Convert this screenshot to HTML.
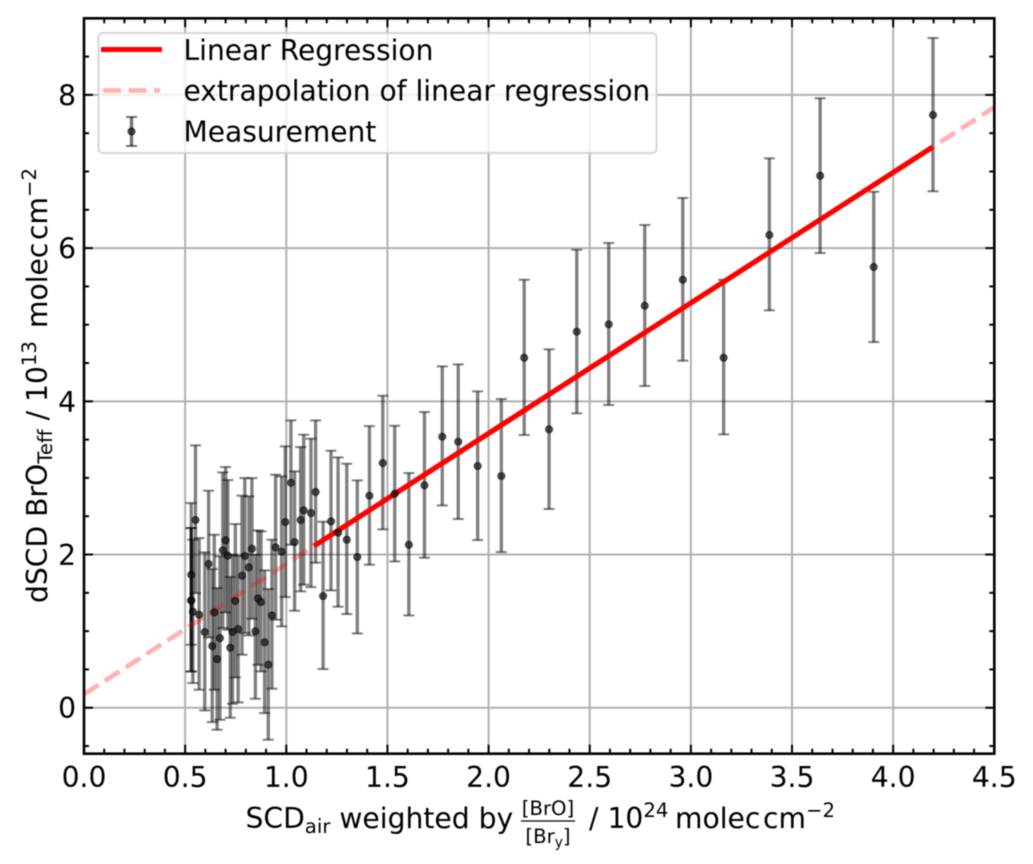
<!DOCTYPE html>
<html>
<head>
<meta charset="utf-8">
<title>dSCD BrO vs weighted SCD air</title>
<style>
html,body{margin:0;padding:0;background:#fff;}
svg{display:block;position:absolute;left:0;top:0;filter:blur(.5px);}
text{font-family:"DejaVu Sans","Liberation Sans",sans-serif;fill:#000;}
</style>
</head>
<body>
<svg id="chart" xmlns="http://www.w3.org/2000/svg" width="1033" height="864" viewBox="0 0 1033 864">
  <g id="grid"></g>
  <g id="bars"></g>
  <g id="fit"></g>
  <g id="points"></g>
  <g id="legend">
    <rect x="98.5" y="33" width="558" height="120" rx="4" ry="4" fill="#fff" fill-opacity="0.8" stroke="#ccc" stroke-opacity="0.8" stroke-width="2"></rect>
    <line x1="101" y1="49.5" x2="162" y2="49.5" stroke="#f00" stroke-width="5"></line>
    <line x1="103" y1="90.5" x2="160" y2="90.5" stroke="#f00" stroke-opacity="0.3" stroke-width="4.7" stroke-dasharray="18 7.5"></line>
    <g>
      <line x1="131.5" y1="117" x2="131.5" y2="146" stroke="#000" stroke-opacity="0.55" stroke-width="3.3"></line>
      <line x1="126" y1="117" x2="137" y2="117" stroke="#000" stroke-opacity="0.55" stroke-width="2"></line>
      <line x1="126" y1="146" x2="137" y2="146" stroke="#000" stroke-opacity="0.55" stroke-width="2"></line>
      <circle cx="131.5" cy="131.5" r="3.5" fill="#111" fill-opacity="0.7" stroke="#000" stroke-opacity="0.6" stroke-width="1.2"></circle>
    </g>
    <text x="183.5" y="60" font-size="28.1">Linear Regression</text>
    <text x="183.5" y="100.5" font-size="28.1">extrapolation of linear regression</text>
    <text x="183.5" y="141.5" font-size="28.1">Measurement</text>
  </g>
  <g id="axes"></g>
  <g id="x-axis-title">
    <text x="245.5" y="828" font-size="28.2">SCD<tspan font-size="19.7" dy="5">air</tspan><tspan dy="-5"> weighted by</tspan></text>
    <text x="548" y="815" font-size="19.7" text-anchor="middle">[BrO]</text>
    <line x1="521" y1="821" x2="575" y2="821" stroke="#000" stroke-width="1.3"></line>
    <text x="548" y="843" font-size="19.7" text-anchor="middle">[Br<tspan font-size="13.8" dy="4">y</tspan><tspan dy="-4">]</tspan></text>
    <text x="589" y="828" font-size="28.2">/ 10<tspan font-size="19.7" dy="-11">24</tspan></text>
    <text x="675" y="828" font-size="28.2">molec</text>
    <text x="763" y="828" font-size="28.2">cm<tspan font-size="19.7" dy="-11">−2</tspan></text>
  </g>
  <g id="y-axis-title" transform="translate(47 603) rotate(-90)">
    <text x="0" y="0" font-size="28.2">dSCD BrO<tspan font-size="19.7" dy="5">Teff</tspan><tspan dy="-5"> / 10</tspan><tspan font-size="19.7" dy="-11">13</tspan></text>
    <text x="275" y="0" font-size="28.2">molec</text>
    <text x="363" y="0" font-size="28.2">cm<tspan font-size="19.7" dy="-11">−2</tspan></text>
  </g>
</svg>
<script>
var xValues = [0.530,0.530,0.530,0.538,0.551,0.569,0.597,0.616,0.634,0.644,0.658,0.672,0.686,0.700,0.711,0.723,0.734,0.748,0.762,0.781,0.795,0.815,0.830,0.847,0.860,0.875,0.893,0.911,0.929,0.947,0.977,0.995,1.023,1.041,1.071,1.086,1.122,1.145,1.182,1.221,1.256,1.299,1.351,1.411,1.477,1.536,1.606,1.683,1.771,1.850,1.946,2.063,2.176,2.299,2.436,2.594,2.772,2.960,3.162,3.388,3.639,3.904,4.197];
var yValues = [1.736,1.401,1.400,1.253,2.450,1.214,0.988,1.876,0.805,1.245,0.635,0.909,2.054,2.185,1.984,0.783,0.988,1.393,1.027,1.723,1.980,1.832,2.076,0.997,1.427,1.379,0.853,0.561,1.205,2.093,2.037,2.424,2.937,2.163,2.450,2.576,2.541,2.816,1.458,2.433,2.285,2.193,1.967,2.768,3.194,2.794,2.128,2.903,3.538,3.473,3.155,3.024,4.569,3.634,4.909,5.005,5.248,5.587,4.569,6.171,6.945,5.753,7.738];
var errorUp = [0.936,0.945,0.945,0.940,0.975,1.001,1.040,0.957,1.005,1.013,0.927,1.067,1.018,0.957,0.988,0.923,1.009,1.005,0.957,1.045,1.018,0.927,0.922,1.000,0.888,0.923,0.940,0.988,0.988,0.949,0.983,0.988,0.814,0.922,0.953,0.988,0.971,0.935,0.970,0.922,0.983,0.992,1.001,0.909,0.879,0.887,0.936,0.957,0.918,1.009,0.975,1.006,1.018,1.045,1.070,1.062,1.054,1.067,1.018,1.001,1.011,0.983,1.005];
var errorDown = [0.914,0.927,0.927,0.931,0.953,0.979,1.023,0.958,0.992,1.010,0.922,1.066,1.014,0.940,0.966,0.914,0.936,0.997,0.957,1.031,1.005,0.888,0.914,0.880,0.866,0.905,0.923,0.979,0.957,0.944,0.975,0.979,0.809,0.897,0.931,0.970,0.966,0.923,0.953,0.901,0.966,0.970,0.997,0.901,0.866,0.884,0.923,0.945,0.897,1.010,0.966,0.992,1.009,1.040,1.066,1.053,1.048,1.057,1.000,0.983,1.009,0.979,0.996];
var regressionSlope = 1.703;
var regressionIntercept = 0.175;
var regressionRange = [1.137, 4.195];
var extrapolationRange = [0, 4.5];
var xMajorTicks = ['0.0','0.5','1.0','1.5','2.0','2.5','3.0','3.5','4.0','4.5'];
var yMajorTicks = ['0','2','4','6','8'];
var xMinorStep = 0.1;
var yMinorStep = 0.5;
var xDomain = [0, 4.5];
var yDomain = [-0.6, 9.0];

var NS = 'http://www.w3.org/2000/svg';
var plot = {left: 84, right: 994.3, top: 18.3, bottom: 753.7};
function xScale(v) {
  return plot.left + (v - xDomain[0]) / (xDomain[1] - xDomain[0]) * (plot.right - plot.left);
}
function yScale(v) {
  return plot.bottom - (v - yDomain[0]) / (yDomain[1] - yDomain[0]) * (plot.bottom - plot.top);
}
function make(tag, attrs, parent) {
  var el = document.createElementNS(NS, tag);
  for (var k in attrs) { el.setAttribute(k, attrs[k]); }
  parent.appendChild(el);
  return el;
}
function fitValue(x) {
  return regressionSlope * x + regressionIntercept;
}

var gridLayer = document.getElementById('grid');
var barLayer = document.getElementById('bars');
var fitLayer = document.getElementById('fit');
var pointLayer = document.getElementById('points');
var axisLayer = document.getElementById('axes');

xMajorTicks.forEach(function (t) {
  var px = xScale(parseFloat(t));
  var line = make('line', {x1: px, x2: px, y1: plot.top, y2: plot.bottom, stroke: '#b0b0b0', 'stroke-width': 2}, gridLayer);
  
  
});
yMajorTicks.forEach(function (t) {
  var py = yScale(parseFloat(t));
  var line = make('line', {x1: plot.left, x2: plot.right, y1: py, y2: py, stroke: '#b0b0b0', 'stroke-width': 2}, gridLayer);
  
  
});

xValues.forEach(function (x, i) {
  var px = xScale(x);
  var hi = yScale(yValues[i] + errorUp[i]);
  var lo = yScale(yValues[i] - errorDown[i]);
  var g = make('g', {stroke: '#000', 'stroke-opacity': 0.5}, barLayer);
  
  
  make('line', {x1: px, x2: px, y1: hi, y2: lo, 'stroke-width': 3.3}, g);
  make('line', {x1: px - 5.5, x2: px + 5.5, y1: hi, y2: hi, 'stroke-width': 2}, g);
  make('line', {x1: px - 5.5, x2: px + 5.5, y1: lo, y2: lo, 'stroke-width': 2}, g);
});

var extrapolation = make('line', {
  x1: xScale(extrapolationRange[0]), y1: yScale(fitValue(extrapolationRange[0])),
  x2: xScale(extrapolationRange[1]), y2: yScale(fitValue(extrapolationRange[1])),
  stroke: '#f00', 'stroke-opacity': 0.3, 'stroke-width': 4.7, 'stroke-dasharray': '17.35 7.5'
}, fitLayer);



var regression = make('line', {
  x1: xScale(regressionRange[0]), y1: yScale(fitValue(regressionRange[0])),
  x2: xScale(regressionRange[1]), y2: yScale(fitValue(regressionRange[1])),
  stroke: '#f00', 'stroke-width': 5.2
}, fitLayer);



xValues.forEach(function (x, i) {
  var dot = make('circle', {cx: xScale(x), cy: yScale(yValues[i]), r: 3.5, fill: '#111', 'fill-opacity': 0.7, stroke: '#000', 'stroke-opacity': 0.6, 'stroke-width': 1.2}, pointLayer);
  
  
});

function tick(x1, y1, x2, y2, w) {
  var line = make('line', {x1: x1, y1: y1, x2: x2, y2: y2, stroke: '#000', 'stroke-width': w}, axisLayer);
  
  
}
var MAJOR = 9, MINOR = 5;
var n, v;
for (n = Math.ceil(xDomain[0] / xMinorStep); n * xMinorStep <= xDomain[1] + 1e-9; n++) {
  v = xScale(n * xMinorStep);
  var xIsMajor = n % 5 === 0;
  tick(v, plot.bottom, v, plot.bottom - (xIsMajor ? MAJOR : MINOR), 2);
  tick(v, plot.top, v, plot.top + (xIsMajor ? MAJOR : MINOR), 2);
}
for (n = Math.ceil(yDomain[0] / yMinorStep); n * yMinorStep <= yDomain[1] + 1e-9; n++) {
  v = yScale(n * yMinorStep);
  var yIsMajor = n % 4 === 0;
  tick(plot.left, v, plot.left + (yIsMajor ? MAJOR : MINOR), v, 2);
  tick(plot.right, v, plot.right - (yIsMajor ? MAJOR : MINOR), v, 2);
}
var frame = make('rect', {x: plot.left, y: plot.top, width: plot.right - plot.left, height: plot.bottom - plot.top, fill: 'none', stroke: '#000', 'stroke-width': 2.6}, axisLayer);



xMajorTicks.forEach(function (t) {
  var label = make('text', {x: xScale(parseFloat(t)), y: 787, 'font-size': 28.2, 'text-anchor': 'middle'}, axisLayer);
  label.textContent = t;
  
  
});
yMajorTicks.forEach(function (t) {
  var label = make('text', {x: 76, y: yScale(parseFloat(t)) + 10.5, 'font-size': 28.2, 'text-anchor': 'end'}, axisLayer);
  label.textContent = t;
  
  
});
</script>
</body>
</html>
